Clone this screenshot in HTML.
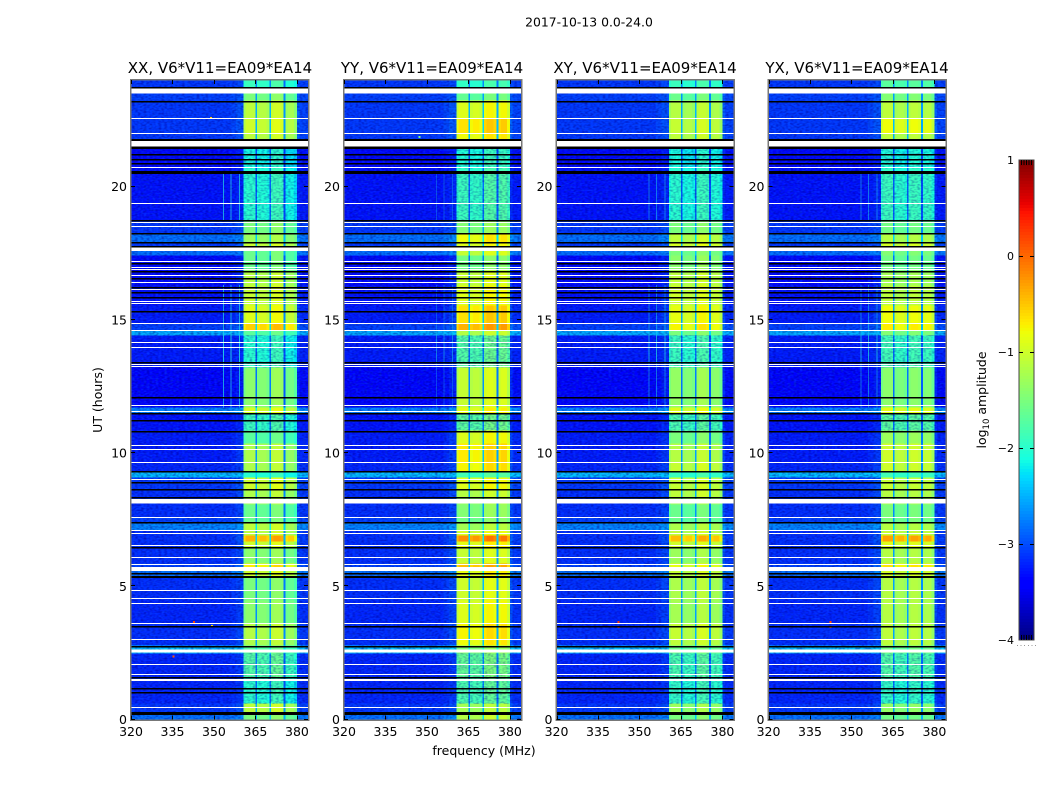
<!DOCTYPE html>
<html lang="en">
<head>
<meta charset="utf-8">
<title>2017-10-13 0.0-24.0</title>
<style>
html,body{margin:0;padding:0;background:#fff;width:1050px;height:800px;overflow:hidden}
svg{display:block}
text{font-family:"DejaVu Sans","Liberation Sans",sans-serif;fill:#000}
</style>
</head>
<body>
<svg id="figure" xmlns="http://www.w3.org/2000/svg" width="1050" height="800" viewBox="0 0 1050 800">
  <defs>
    <filter id="speckle-dark" x="0" y="0" width="100%" height="100%" color-interpolation-filters="sRGB">
      <feTurbulence type="fractalNoise" baseFrequency="0.34 0.6" numOctaves="1" seed="4"/>
      <feColorMatrix type="matrix" values="0 0 0 0 0  0 0 0 0 0  0 0 0 0 0.55  2.6 0 0 0 -1.05"/>
    </filter>
    <filter id="speckle-light" x="0" y="0" width="100%" height="100%" color-interpolation-filters="sRGB">
      <feTurbulence type="fractalNoise" baseFrequency="0.34 0.6" numOctaves="1" seed="11"/>
      <feColorMatrix type="matrix" values="0 0 0 0 0.05  0 0 0 0 0.4  0 0 0 0 1  2.6 0 0 0 -1.15"/>
    </filter>
  </defs>
  <text x="589" y="26.5" font-size="12.4" text-anchor="middle">2017-10-13 0.0-24.0</text>
  <text x="220" y="73" font-size="15" text-anchor="middle">XX, V6*V11=EA09*EA14</text>
  <text x="432" y="73" font-size="15" text-anchor="middle">YY, V6*V11=EA09*EA14</text>
  <text x="645" y="73" font-size="15" text-anchor="middle">XY, V6*V11=EA09*EA14</text>
  <text x="857" y="73" font-size="15" text-anchor="middle">YX, V6*V11=EA09*EA14</text>
  <text x="484" y="755" font-size="12.5" text-anchor="middle">frequency (MHz)</text>
  <text transform="translate(102,400) rotate(-90)" font-size="12.5" text-anchor="middle">UT (hours)</text>
  <text transform="translate(986,400) rotate(-90)" font-size="12.5" text-anchor="middle">log<tspan font-size="8.5" dy="3">10</tspan><tspan dy="-3"> amplitude</tspan></text>
</svg>
<script>
// Time blocks: upper edge of each block in hours (UT).
const blockTopHours = [24,23.68,23.49,23.23,22.55,21.99,21.73,21.46,20.68,20.53,18.72,18.24,17.9,17.71,17.41,16.85,16.29,15.53,14.86,14.6,14.41,13.21,11.71,11.48,10.84,10.36,9.64,9.27,9.08,8.59,8.33,8.07,7.58,7.35,7.09,6.9,6.68,6.42,5.85,5.7,5.33,4.47,3.6,3.04,2.78,2.48,1.58,0.6,0.23];
// Off-band log10 amplitude per block.
const backgroundLevels = [-3.1,-3.1,-3.05,-3.1,-3.1,-3.1,-3.1,-3.35,-3.3,-3.3,-3.1,-2.8,-3.1,-2.8,-3.35,-3.35,-3.3,-3.25,-3.05,-2.5,-3.25,-3.4,-2.7,-3.3,-3.25,-3.25,-3.2,-2.4,-3.1,-3.15,-3.15,-3.15,-3.05,-2.7,-3.15,-3.15,-3.15,-3.15,-3.05,-2.8,-3.15,-3.2,-3.15,-3.15,-2.4,-3.2,-3.2,-3.1,-2.8];
// In-band log10 amplitude per block, per polarisation.
const bandLevelsXX = [-1.9,-1.8,-1.5,-1.1,-1,-1.1,-1.2,-2.1,-2,-2,-1.5,-1.3,-1.05,-1.6,-1.6,-1.15,-1.05,-0.9,-0.55,-1.7,-2,-1.4,-0.95,-1.9,-1.7,-1.2,-1.2,-2,-1,-1.2,-1.3,-1.6,-1.6,-1.1,-1.1,-0.4,-1,-1.4,-0.7,-1,-1.5,-1.4,-1.15,-1.2,-1.7,-1.75,-2,-1.1,-1.5];
const bandLevelsYY = [-1.9,-1.7,-1.6,-0.85,-0.6,-0.75,-0.8,-2,-1.9,-1.85,-1.4,-0.75,-0.85,-1,-1.5,-1,-0.85,-0.6,-0.35,-1.1,-1.7,-1,-0.8,-1.65,-0.85,-0.65,-0.7,-1.8,-0.85,-1.1,-1.3,-1.4,-1.5,-1.2,-0.9,-0.15,-0.8,-1,-0.4,-0.8,-0.95,-0.85,-0.7,-0.75,-1.4,-1.6,-1.75,-1.2,-1.1];
const bandLevelsXY = [-1.9,-1.7,-1.6,-1.15,-1.05,-1.1,-1.2,-2.1,-2,-2,-1.5,-1.1,-0.95,-1.5,-1.4,-1.1,-1,-0.85,-0.75,-1.5,-1.9,-1.35,-0.9,-1.8,-1.5,-1.15,-1.05,-1.9,-1.05,-1.1,-1.3,-1.6,-1.6,-1.2,-1.1,-0.45,-1,-1.3,-0.85,-1.05,-1.2,-1.25,-1.05,-1.1,-1.6,-1.8,-1.95,-1.3,-1.5];
const bandLevelsYX = [-1.75,-1.7,-1.5,-1.15,-0.85,-1.15,-1.25,-2.1,-2,-1.95,-1.6,-1.2,-1,-1.5,-1.6,-1.3,-1.15,-0.85,-0.75,-1.5,-1.9,-1.45,-0.9,-1.75,-1.35,-1.05,-1.05,-1.9,-1.1,-1.2,-1.3,-1.55,-1.55,-1.2,-1.1,-0.35,-0.95,-1.2,-0.7,-1,-1.2,-1.2,-1.15,-1.15,-1.6,-1.8,-2,-1.4,-1.6];
// Level trim applied to each of the four sub-bands.
const bandTrimXX = [0,-0.05,0.12,-0.15];
const bandTrimYY = [-0.05,-0.1,0.1,0.08];
const bandTrimXY = [0,-0.1,0.1,-0.05];
const bandTrimYX = [0.05,-0.05,0.05,0];
// Frequency channels (MHz) and how far each sits from background (0) to band (1).
const channelEdgesMHz = [320,324,328,332,336,340,344,348,352,356,358,360.6,361.4,362.6,363.8,365,365.6,366.6,367.8,369,370,370.6,371.6,372.8,374,375.2,375.8,376.8,378,379,380.1,381,384];
const channelWeights = [0,0,0,0,0,0,0,0,0,0.03,0.07,0.92,1,1,1,0.3,0.97,1,1,0.95,0.3,0.97,1,1,0.97,0.25,0.97,1,1,0.9,0.1,0.03];
const subBandEdgesMHz = [360.6,365.3,370.3,375.5,380.1];
// Blocks whose in-band signal is visibly speckled (hours).
const noisyBandTopHours = [21.46,20.53,14.41,11.48,2.48];
const noisyBandBottomHours = [20.68,18.72,13.21,10.84,0.6];
// Fully flagged rows (hours).
const thinWhiteFlagHours = [22.56,22,20.74,19.37,18.66,18.53,17.22,16.99,16.9,16.68,16.41,16.14,15.7,15.64,14.87,14.6,14.15,13.99,13.34,13.27,11.79,11.59,10.29,10.14,9.65,9.04,8.64,7.59,7.12,7,6.56,6.09,5.85,4.85,4.55,4.36,3.61,3.01,2.07,1.72,0.46];
const thickWhiteFlagTops = [23.68,21.7,17.73,8.27,5.72,2.62,1.52];
const thickWhiteFlagBottoms = [23.49,21.47,17.58,8.1,5.57,2.52,1.44];
const thinBlackFlagHours = [23.72,23.22,21.21,21.04,20.89,18.75,18.24,17.92,17.14,16.82,16.56,16.23,16.05,15.87,15.33,13.4,12.09,11.49,11.23,10.84,9.31,8.91,8.64,8.36,7.4,6.46,5.49,3.51,2.76,1.58,1.17,1.04];
const thickBlackFlagTops = [21.78,21.5,20.58,17.77,5.38,0.28];
const thickBlackFlagBottoms = [21.7,21.4,20.47,17.71,5.31,0.17];
// Persistent narrow-band interference.
const rfiFreqsMHz = [353.3,356,359];
const rfiStartHours = [18.72,11.7,13.3];
const rfiEndHours = [20.5,14.4,16.3];
const rfiStrength = [0.75,0.3,0.5,0.5];
// Isolated hot samples.
const spotPanels = [0,0,0,0,2,2,3,3,1];
const spotFreqs = [342.4,349,335,348.5,342,342,342,342,347];
const spotHours = [3.7,3.55,2.4,22.6,3.7,3.5,3.7,3.5,21.9];
const spotLevels = [0.2,-0.6,0.1,-0.5,0.3,0.2,0.2,0,-1.5];
// Axis ticks.
const freqTicks = [320,335,350,365,380];
const hourTicks = [0,5,10,15,20];
const colorbarTicks = [-4,-3,-2,-1,0,1];

const panelNames = ['xx','yy','xy','yx'];
const panelBands = [bandLevelsXX,bandLevelsYY,bandLevelsXY,bandLevelsYX];
const panelTrims = [bandTrimXX,bandTrimYY,bandTrimXY,bandTrimYX];

const layout = {lefts:[131,344,556.5,768.5], width:177, top:80, bottom:719.5, hourPx:26.65,
  fMin:320, fMax:384, cbLeft:1019, cbRight:1034, cbTop:160, cbBottom:640, vMin:-4, vMax:1,
  bandFrom:360.6, bandTo:380.1};
const NS = 'http://www.w3.org/2000/svg';
const fig = document.getElementById('figure');

function xScale(panel, f){ return layout.lefts[panel] + (f-layout.fMin)*layout.width/(layout.fMax-layout.fMin); }
function yScale(h){ return layout.bottom - h*layout.hourPx; }
function cbScale(v){ return layout.cbBottom - (v-layout.vMin)*(layout.cbBottom-layout.cbTop)/(layout.vMax-layout.vMin); }
function clamp01(v){ return Math.max(0,Math.min(1,v)); }
function jet(level){
  const t = clamp01((level-layout.vMin)/(layout.vMax-layout.vMin));
  const r = t<0.35?0:t<0.66?(t-0.35)/0.31:t<0.89?1:1-(t-0.89)/0.11*0.5;
  const g = t<0.125?0:t<0.375?(t-0.125)/0.25:t<0.64?1:t<0.91?1-(t-0.64)/0.27:0;
  const b = t<0.11?0.5+t/0.11*0.5:t<0.34?1:t<0.65?1-(t-0.34)/0.31:0;
  return 'rgb('+Math.round(r*255)+','+Math.round(g*255)+','+Math.round(b*255)+')';
}
function group(parent, name){
  const g = document.createElementNS(NS,'g');
  
  
  parent.appendChild(g);
  return g;
}
function rect(parent, name, x, y, w, h, fill){
  const r = document.createElementNS(NS,'rect');
  
  
  r.setAttribute('x', x);
  r.setAttribute('y', y);
  r.setAttribute('width', w);
  r.setAttribute('height', h);
  r.setAttribute('fill', fill);
  r.setAttribute('shape-rendering', 'crispEdges');
  parent.appendChild(r);
  return r;
}
function line(parent, name, x1, y1, x2, y2, stroke, sw){
  const l = document.createElementNS(NS,'line');
  
  
  l.setAttribute('x1', x1);
  l.setAttribute('y1', y1);
  l.setAttribute('x2', x2);
  l.setAttribute('y2', y2);
  l.setAttribute('stroke', stroke);
  l.setAttribute('stroke-width', sw);
  parent.appendChild(l);
  return l;
}
function label(parent, name, x, y, str, anchor, size){
  const t = document.createElementNS(NS,'text');
  
  
  t.setAttribute('x', x);
  t.setAttribute('y', y);
  t.setAttribute('text-anchor', anchor);
  t.setAttribute('font-size', size);
  t.textContent = str;
  parent.appendChild(t);
  return t;
}
function subBandOf(f){
  for(let i=0;i<4;i++){ if(f>=subBandEdgesMHz[i] && f<subBandEdgesMHz[i+1]) return i; }
  return -1;
}
function noise(parent, name, x, y, w, h, filterId, opacity){
  const n = rect(parent, name, x, y, w, h, '#000');
  n.setAttribute('filter', 'url(#'+filterId+')');
  n.setAttribute('opacity', opacity);
}

panelNames.forEach(function(pn, p){
  const left = layout.lefts[p], right = left+layout.width;
  const g = group(fig, 'panel-'+pn);
  const cells = group(g, 'heatmap-'+pn);
  const bands = panelBands[p], trim = panelTrims[p];
  blockTopHours.forEach(function(top, i){
    const next = i+1<blockTopHours.length ? blockTopHours[i+1] : 0;
    const y0 = yScale(top), y1 = yScale(next);
    channelWeights.forEach(function(w, c){
      const f0 = channelEdgesMHz[c], f1 = channelEdgesMHz[c+1];
      const sb = subBandOf((f0+f1)/2);
      const band = bands[i] + (sb>=0 ? trim[sb] : 0);
      const level = backgroundLevels[i] + w*(band-backgroundLevels[i]);
      const x0 = xScale(p,f0), x1 = xScale(p,f1);
      rect(cells, 'heatmap-cell', x0, y0, x1-x0, y1-y0, jet(level));
    });
  });
  // Pixel-scale texture of the visibilities (decorative only): strong off-band, local in-band.
  const bandX0 = xScale(p,layout.bandFrom), bandX1 = xScale(p,layout.bandTo);
  const plotH = layout.bottom-layout.top;
  noise(g, 'noise-dark-left', left, layout.top, bandX0-left, plotH, 'speckle-dark', 0.5);
  noise(g, 'noise-light-left', left, layout.top, bandX0-left, plotH, 'speckle-light', 0.35);
  noise(g, 'noise-dark-right', bandX1, layout.top, right-bandX1, plotH, 'speckle-dark', 0.5);
  noise(g, 'noise-light-right', bandX1, layout.top, right-bandX1, plotH, 'speckle-light', 0.35);
  noisyBandTopHours.forEach(function(h, k){
    const y0 = yScale(h), y1 = yScale(noisyBandBottomHours[k]);
    noise(g, 'noise-band', bandX0, y0, bandX1-bandX0, y1-y0, 'speckle-dark', 0.35);
  });

  rfiFreqsMHz.forEach(function(f){
    rfiStartHours.forEach(function(h0, k){
      const bar = rect(g, 'rfi-line', xScale(p,f), yScale(rfiEndHours[k]), 1, yScale(h0)-yScale(rfiEndHours[k]), '#20d0e0');
      bar.setAttribute('opacity', rfiStrength[p]);
    });
  });
  spotPanels.forEach(function(sp, k){
    if(sp!==p) return;
    rect(g, 'hot-spot', xScale(p,spotFreqs[k]), yScale(spotHours[k]), 2, 2, jet(spotLevels[k]));
  });

  thinWhiteFlagHours.forEach(function(h){
    rect(g, 'flag-white', left, Math.round(yScale(h)), layout.width, 1, '#fff');
  });
  thickWhiteFlagTops.forEach(function(h, k){
    rect(g, 'flag-white-wide', left, yScale(h), layout.width, yScale(thickWhiteFlagBottoms[k])-yScale(h), '#fff');
  });
  thinBlackFlagHours.forEach(function(h){
    rect(g, 'flag-black', left, Math.round(yScale(h)), layout.width, 1.6, '#000');
  });
  thickBlackFlagTops.forEach(function(h, k){
    rect(g, 'flag-black-wide', left, yScale(h), layout.width, yScale(thickBlackFlagBottoms[k])-yScale(h), '#000');
  });

  const frame = rect(g, 'panel-frame', left-0.5, layout.top-0.5, layout.width+1, layout.bottom-layout.top+1, 'none');
  frame.setAttribute('stroke', '#777');
  frame.setAttribute('stroke-width', '1.5');

  freqTicks.forEach(function(f){
    const x = Math.round(xScale(p,f))+0.5;
    line(g, 'x-tick', x, layout.bottom, x, layout.bottom-4, '#000', 1);
    line(g, 'x-tick-top', x, layout.top, x, layout.top+4, '#000', 1);
    label(g, 'x-tick-label', xScale(p,f), 736, String(f), 'middle', 12.5);
  });
  hourTicks.forEach(function(h){
    const y = Math.round(yScale(h))-0.5;
    line(g, 'y-tick', left, y, left+4, y, '#000', 1);
    line(g, 'y-tick-right', right, y, right-4, y, '#000', 1);
    label(g, 'y-tick-label', left-4, yScale(h)+4.5, String(h), 'end', 12.5);
  });
});

// Colorbar
const cb = group(fig, 'colorbar');
const cbSteps = 160;
for(let i=0;i<cbSteps;i++){
  const v0 = layout.vMin + (layout.vMax-layout.vMin)*i/cbSteps;
  const v1 = layout.vMin + (layout.vMax-layout.vMin)*(i+1)/cbSteps;
  rect(cb, 'colorbar-cell', layout.cbLeft, cbScale(v1), layout.cbRight-layout.cbLeft, cbScale(v0)-cbScale(v1), jet((v0+v1)/2));
}
const cbFrame = rect(cb, 'colorbar-frame', layout.cbLeft, layout.cbTop, layout.cbRight-layout.cbLeft, layout.cbBottom-layout.cbTop, 'none');
cbFrame.setAttribute('stroke', '#444');
cbFrame.setAttribute('stroke-width', '1.2');
colorbarTicks.forEach(function(v){
  const y = Math.round(cbScale(v))+0.5;
  if(v>layout.vMin && v<layout.vMax){
    line(cb, 'colorbar-tick', layout.cbLeft, y, layout.cbLeft+4, y, '#000', 1);
    line(cb, 'colorbar-tick-right', layout.cbRight, y, layout.cbRight-4, y, '#000', 1);
  }
  label(cb, 'colorbar-tick-label', layout.cbLeft-5, cbScale(v)+4, (v<0?'\u2212':'')+Math.abs(v), 'end', 11);
});
for(let i=1;i<=5;i++){
  const x = layout.cbLeft + i*(layout.cbRight-layout.cbLeft)/6;
  line(cb, 'colorbar-stub-top', x, layout.cbTop, x, layout.cbTop+5, '#000', 1);
  line(cb, 'colorbar-stub-bottom', x, layout.cbBottom, x, layout.cbBottom-5, '#000', 1);
}
for(let i=0;i<6;i++){
  rect(cb, 'colorbar-dot', layout.cbLeft-2 + i*3.6, 645, 1, 1, '#999');
}
</script>
</body>
</html>
